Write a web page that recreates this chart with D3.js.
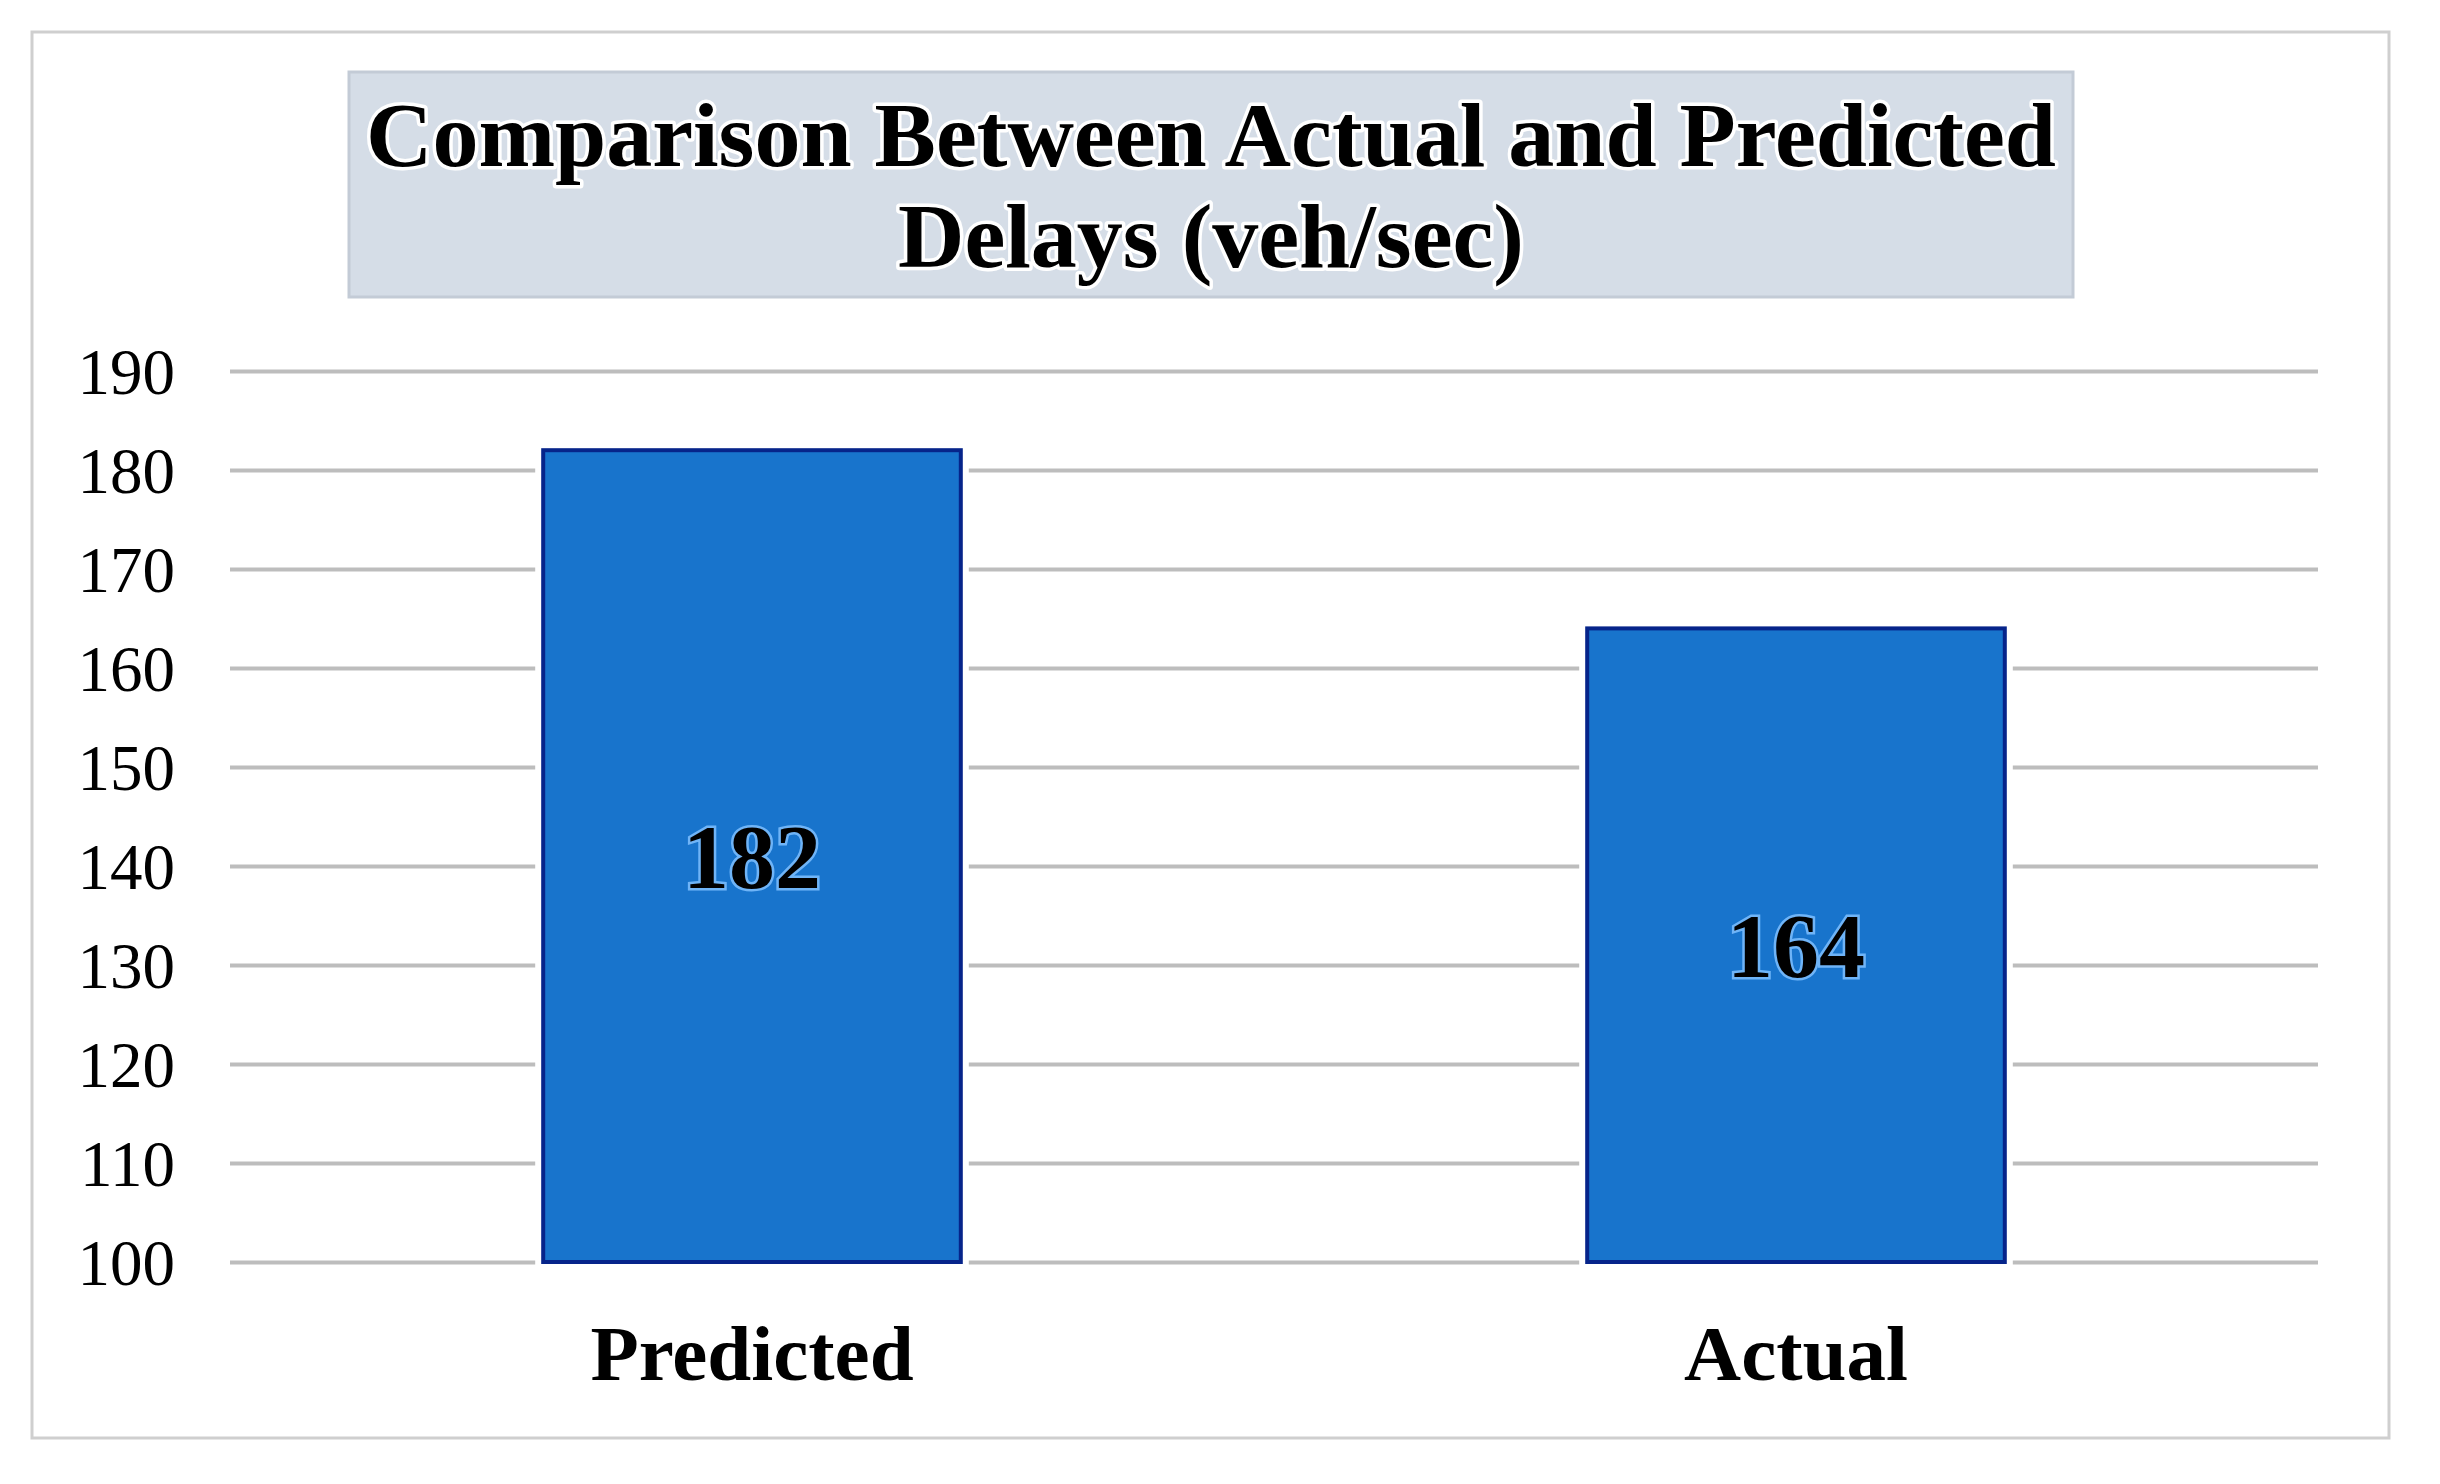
<!DOCTYPE html>
<html>
<head>
<meta charset="utf-8">
<script src="https://cdn.jsdelivr.net/npm/d3@7"></script>
<style>
  html, body { margin: 0; padding: 0; background: #ffffff; }
  svg { display: block; }
</style>
</head>
<body>
<svg id="chart" width="2440" height="1484"></svg>
<script>
const categories = ["Predicted", "Actual"];
const values = [182, 164];
const valueLabels = ["182", "164"];
const yTicks = [100, 110, 120, 130, 140, 150, 160, 170, 180, 190];
const titleLines = ["Comparison Between Actual and Predicted", "Delays (veh/sec)"];

const svg = d3.select("#chart");
const serif = "'Liberation Serif', 'Times New Roman', serif";

// outer chart frame
svg.append("rect")
  .attr("x", 32).attr("y", 32).attr("width", 2357).attr("height", 1406)
  .attr("fill", "#ffffff").attr("stroke", "#cfcfcf").attr("stroke-width", 3);

const plot = { left: 230, right: 2318, top: 371, bottom: 1262 };

const x = d3.scaleBand()
  .domain(categories)
  .range([plot.left, plot.right])
  .paddingInner(0.6)
  .paddingOuter(0.3);

const y = d3.scaleLinear()
  .domain([100, 190])
  .range([plot.bottom, plot.top]);

// gridlines + tick labels
const yAxis = d3.axisLeft(y)
  .tickValues(yTicks)
  .tickSize(-(plot.right - plot.left))
  .tickPadding(55)
  .tickFormat(d3.format("d"));

const gy = svg.append("g")
  .attr("transform", `translate(${plot.left},0)`)
  .call(yAxis);
gy.select(".domain").remove();
gy.selectAll(".tick line")
  .attr("stroke", "#bdbdbd")
  .attr("stroke-width", 4);
gy.selectAll(".tick text")
  .attr("font-family", serif)
  .attr("font-size", 65)
  .attr("fill", "#000000")
  .attr("dy", "0.34em");

// white halo behind bars (gap in gridlines)
svg.append("g").selectAll("rect")
  .data(values)
  .join("rect")
  .attr("x", (d, i) => x(categories[i]) - 8)
  .attr("y", d => y(d) - 8)
  .attr("width", x.bandwidth() + 16)
  .attr("height", d => y(100) - y(d) + 12)
  .attr("fill", "#ffffff");

// bars
svg.append("g").selectAll("rect")
  .data(values)
  .join("rect")
  .attr("x", (d, i) => x(categories[i]))
  .attr("y", d => y(d))
  .attr("width", x.bandwidth())
  .attr("height", d => y(100) - y(d))
  .attr("fill", "#1874cc")
  .attr("stroke", "#06248a")
  .attr("stroke-width", 4);

// value labels (centered in bar)
svg.append("g").selectAll("text")
  .data(values)
  .join("text")
  .attr("x", (d, i) => x(categories[i]) + x.bandwidth() / 2)
  .attr("y", d => (y(d) + y(100)) / 2)
  .attr("dy", "0.35em")
  .attr("text-anchor", "middle")
  .attr("font-family", serif)
  .attr("font-weight", "bold")
  .attr("font-size", 92)
  .attr("fill", "#000000")
  .attr("stroke", "#6fb4f7")
  .attr("stroke-width", 5)
  .attr("paint-order", "stroke")
  .text((d, i) => valueLabels[i]);

// category labels
const xAxis = d3.axisBottom(x).tickSize(0).tickPadding(0);
const gx = svg.append("g")
  .attr("transform", `translate(0,1380)`)
  .call(xAxis);
gx.select(".domain").remove();
gx.selectAll(".tick text")
  .attr("font-family", serif)
  .attr("font-weight", "bold")
  .attr("font-size", 79)
  .attr("fill", "#000000")
  .attr("dy", "0");

// title box
svg.append("rect")
  .attr("x", 349).attr("y", 72).attr("width", 1724).attr("height", 225)
  .attr("fill", "#d5dde7").attr("stroke", "#c3cbd6").attr("stroke-width", 3);

svg.append("g").selectAll("text")
  .data(titleLines)
  .join("text")
  .attr("x", 1211)
  .attr("y", (d, i) => 166 + i * 101)
  .attr("text-anchor", "middle")
  .attr("font-family", serif)
  .attr("font-weight", "bold")
  .attr("font-size", 92)
  .attr("fill", "#000000")
  .attr("stroke", "#ffffff")
  .attr("stroke-width", 7)
  .attr("stroke-linejoin", "round")
  .attr("paint-order", "stroke")
  .text(d => d);
</script>
</body>
</html>
